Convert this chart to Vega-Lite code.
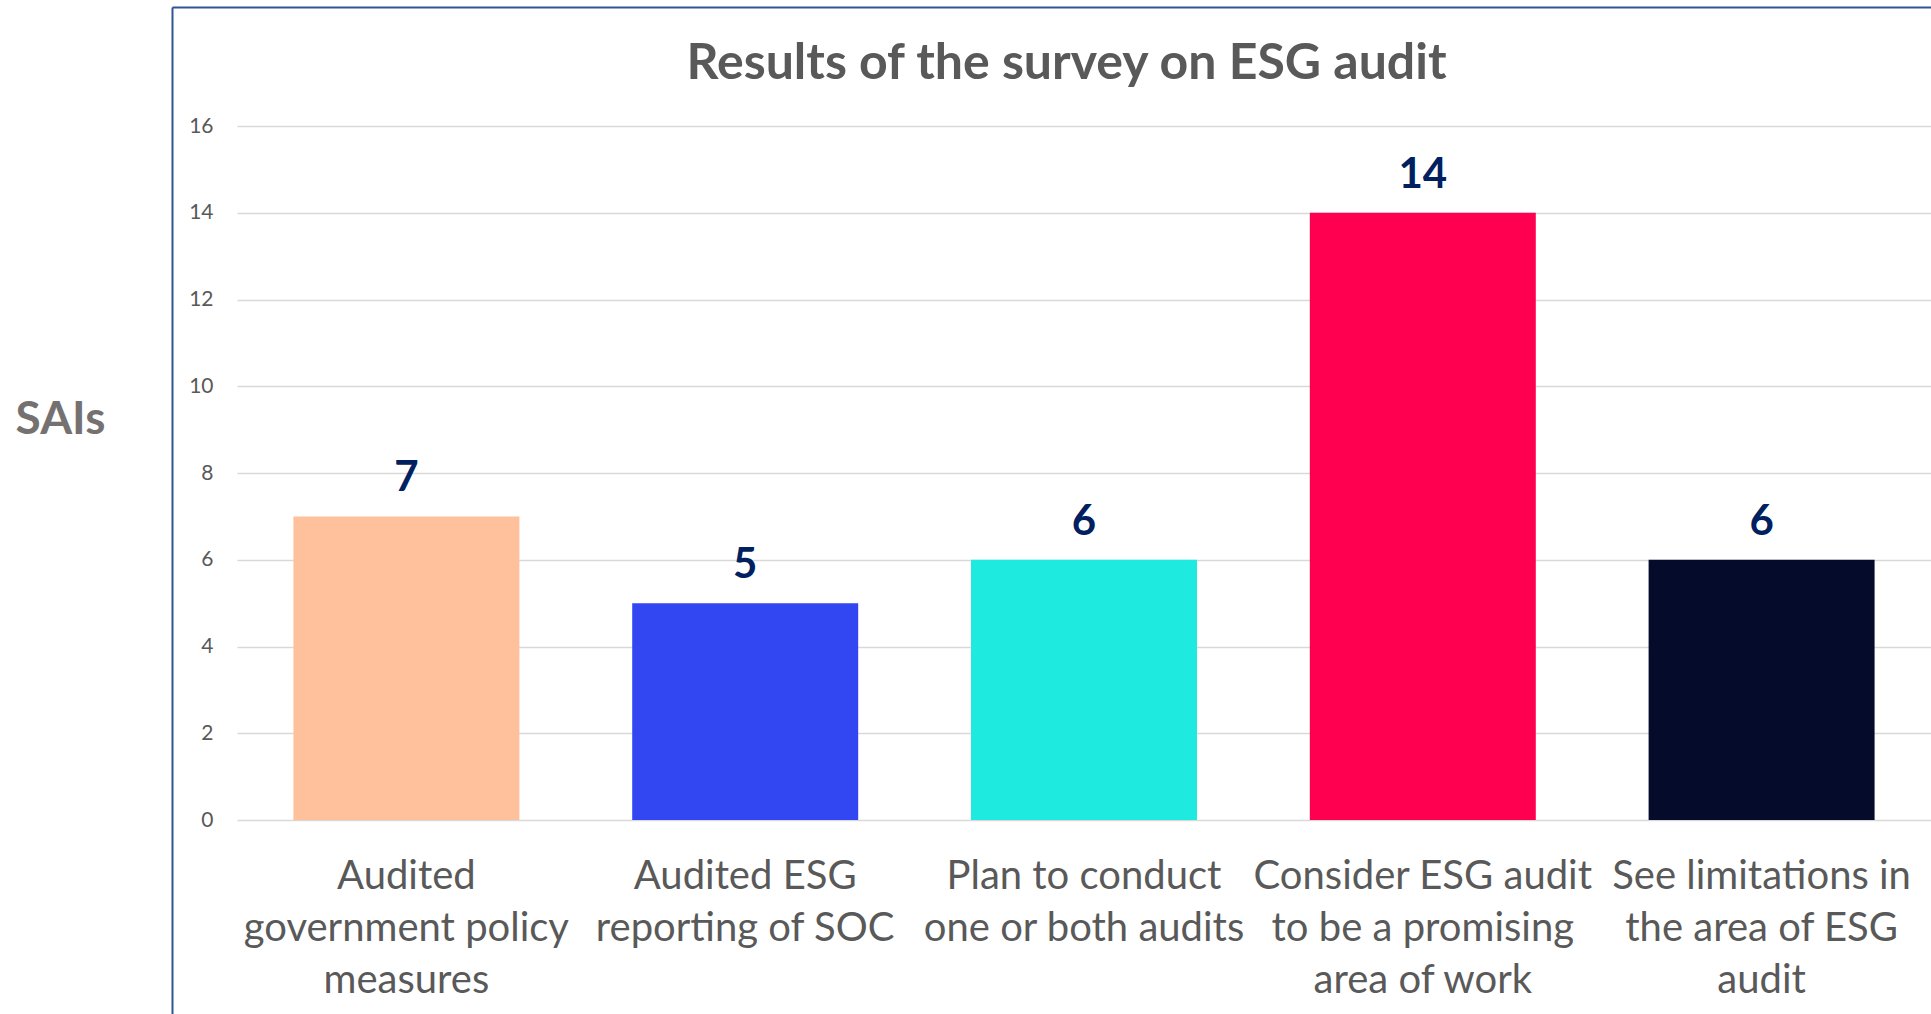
{
  "$schema": "https://vega.github.io/schema/vega-lite/v6.json",
  "width": 1694,
  "height": 694,
  "autosize": {"type": "none"},
  "padding": {"left": 237, "top": 126, "right": 0, "bottom": 194},
  "background": "white",
  "config": {"view": {"stroke": null}},
  "data": {
    "values": [
      {"category": "Audited\ngovernment policy\nmeasures", "count": 7},
      {"category": "Audited ESG\nreporting of SOC", "count": 5},
      {"category": "Plan to conduct\none or both audits", "count": 6},
      {"category": "Consider ESG audit\nto be a promising\narea of work", "count": 14},
      {"category": "See limitations in\nthe area of ESG\naudit", "count": 6}
    ]
  },
  "resolve": {"scale": {"x": "independent", "y": "independent"}, "axis": {"x": "independent", "y": "independent"}},
  "layer": [
    {
      "layer": [
        {
          "mark": {"type": "bar"},
          "encoding": {
            "color": {
              "field": "category",
              "type": "nominal",
              "sort": null,
              "scale": {"range": ["#FFC19B", "#3246F2", "#1FEADF", "#FF0050", "#050B2B"]},
              "legend": null
            }
          }
        },
        {
          "mark": {"type": "text", "font": "Lato", "fontSize": 42, "fontWeight": "bold", "color": "#002060", "baseline": "alphabetic", "dy": -25},
          "encoding": {"text": {"field": "count", "type": "quantitative"}}
        }
      ],
      "encoding": {
        "x": {
          "field": "category",
          "type": "nominal",
          "sort": null,
          "scale": {"paddingInner": 0.333, "paddingOuter": 0.1665},
          "axis": {
            "title": null,
            "labelAngle": 0,
            "labelExpr": "split(datum.label, '\\n')",
            "labelFont": "Lato",
            "labelFontSize": 40,
            "labelLineHeight": 52,
            "labelColor": "#595959",
            "labelPadding": 36,
            "labelLimit": 0,
            "labelOverlap": false,
            "ticks": false,
            "domain": false
          }
        },
        "y": {
          "field": "count",
          "type": "quantitative",
          "scale": {"domain": [0, 16], "nice": false},
          "axis": {
            "values": [0, 2, 4, 6, 8, 10, 12, 14, 16],
            "grid": true,
            "gridColor": "#D9D9D9",
            "gridWidth": 1.5,
            "domain": false,
            "ticks": false,
            "labelFont": "Lato",
            "labelFontSize": 21,
            "labelColor": "#595959",
            "labelPadding": 24,
            "title": "SAIs",
            "titleAngle": 0,
            "titleFont": "Lato",
            "titleFontSize": 46,
            "titleFontWeight": "bold",
            "titleColor": "#767171",
            "titleAlign": "center",
            "titleBaseline": "alphabetic",
            "titleX": -177,
            "titleY": 307
          }
        }
      }
    },
    {
      "mark": {"type": "point", "opacity": 0},
      "encoding": {
        "x": {
          "field": "count",
          "type": "quantitative",
          "scale": {"range": [-65, 1800]},
          "axis": {
            "orient": "top", "offset": 119, "domain": true, "domainColor": "#2F5597", "domainWidth": 2,
            "labels": false, "ticks": false, "grid": false,
            "title": "Results of the survey on ESG audit",
            "titleFont": "Lato",
            "titleFontSize": 50,
            "titleFontWeight": "bold",
            "titleColor": "#595959",
            "titleAlign": "center",
            "titleBaseline": "alphabetic",
            "titleX": 829,
            "titleY": 71
          }
        },
        "y": {
          "field": "count",
          "type": "quantitative",
          "scale": {"range": [888, -119]},
          "axis": {"orient": "left", "offset": 65, "domain": true, "domainColor": "#2F5597", "domainWidth": 2, "labels": false, "ticks": false, "grid": false, "title": null}
        }
      }
    }
  ]
}
